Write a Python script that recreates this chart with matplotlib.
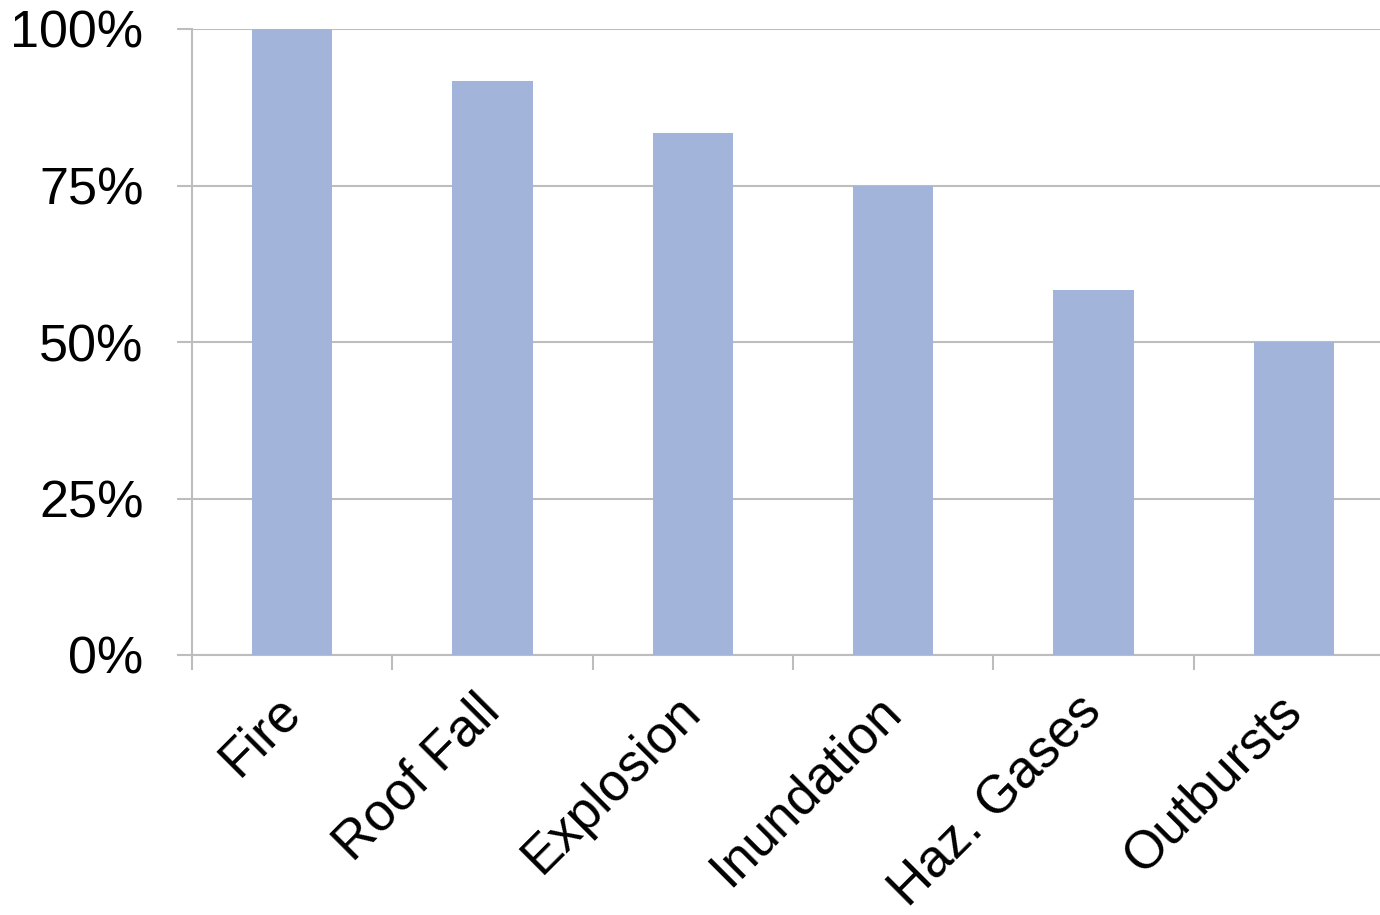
import numpy as np
import matplotlib.pyplot as plt
from matplotlib.ticker import FuncFormatter

# share of events per hazard category
hazards = ['Fire', 'Roof Fall', 'Explosion', 'Inundation', 'Haz. Gases', 'Outbursts']
share = [12/12, 11/12, 10/12, 9/12, 7/12, 6/12]
yticks = [0, 0.25, 0.5, 0.75, 1.0]

plt.rcParams['font.family'] = ['Liberation Sans', 'DejaVu Sans']
grey = '#BDBDBD'

fig = plt.figure(figsize=(13.8, 9.15), dpi=100)
ax = fig.add_axes([192/1380, 1 - 655/915, 1202/1380, 626/915])

x = np.arange(len(hazards))
ax.bar(x, share, width=0.4, color='#A3B4DA', zorder=3)

ax.set_xlim(-0.5, len(hazards) - 0.5)
ax.set_ylim(0, 1)
ax.set_yticks(yticks)
ax.yaxis.set_major_formatter(FuncFormatter(lambda v, p: '%d%%' % round(v * 100)))
ax.grid(axis='y', color=grey, linewidth=1.5, zorder=0)

# category boundaries carry the x tick marks, labels sit under the bars
ax.set_xticks(np.arange(len(hazards) + 1) - 0.5)
ax.set_xticklabels([])
ax.set_xticks(x, minor=True)
ax.set_xticklabels(hazards, minor=True, rotation=45, ha='right', va='center',
                   rotation_mode='anchor', fontsize=38)
ax.tick_params(axis='x', which='minor', length=0, pad=35)
ax.tick_params(axis='x', which='major', length=11, width=1.5, color=grey)
ax.tick_params(axis='y', length=11, width=1.5, color=grey, labelsize=37.5, pad=24)

for side in ['top', 'right']:
    ax.spines[side].set_visible(False)
for side in ['left', 'bottom']:
    ax.spines[side].set_color(grey)
    ax.spines[side].set_linewidth(1.5)

fig.savefig('out.png', dpi=100)
